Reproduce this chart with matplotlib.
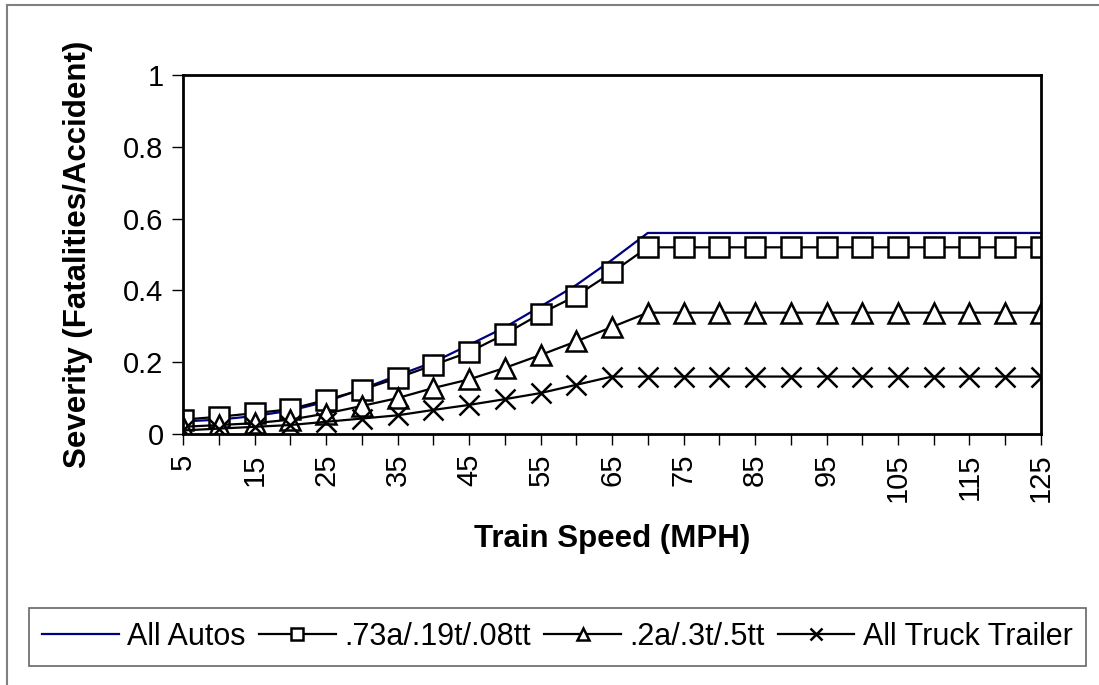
import numpy as np
import matplotlib as mpl
import matplotlib.pyplot as plt
from matplotlib.lines import Line2D

speed = list(range(5, 130, 5))
all_autos = [0.035, 0.04, 0.05, 0.065, 0.09, 0.125, 0.163, 0.2, 0.248, 0.297, 0.355, 0.415, 0.485,
             0.56, 0.56, 0.56, 0.56, 0.56, 0.56, 0.56, 0.56, 0.56, 0.56, 0.56, 0.56]
mix_73 = [0.04, 0.048, 0.058, 0.069, 0.095, 0.123, 0.156, 0.192, 0.228, 0.278, 0.335, 0.385, 0.45,
          0.52, 0.52, 0.52, 0.52, 0.52, 0.52, 0.52, 0.52, 0.52, 0.52, 0.52, 0.52]
mix_2 = [0.02, 0.025, 0.03, 0.04, 0.057, 0.078, 0.1, 0.128, 0.152, 0.184, 0.22, 0.258, 0.298,
         0.338, 0.338, 0.338, 0.338, 0.338, 0.338, 0.338, 0.338, 0.338, 0.338, 0.338, 0.338]
truck = [0.01, 0.015, 0.02, 0.025, 0.034, 0.043, 0.052, 0.067, 0.081, 0.097, 0.114, 0.137, 0.16,
         0.16, 0.16, 0.16, 0.16, 0.16, 0.16, 0.16, 0.16, 0.16, 0.16, 0.16, 0.16]
labels = ["All Autos", ".73a/.19t/.08tt", ".2a/.3t/.5tt", "All Truck Trailer"]

mpl.rcParams['font.family'] = ['Liberation Sans', 'DejaVu Sans']

W, H = 1099, 685
fig = plt.figure(figsize=(W/100, H/100), dpi=100)
# outer border of the chart (only left and top edges show)
fig.lines.append(Line2D([7/W, 7/W], [0, 1 - 5/H], transform=fig.transFigure, color='#808080', lw=1.5))
fig.lines.append(Line2D([7/W, 1], [1 - 5/H, 1 - 5/H], transform=fig.transFigure, color='#808080', lw=1.5))

ax = fig.add_axes([183/W, 1 - 434/H, (1041-183)/W, (434-75)/H])

ax.plot(speed, all_autos, color='#000080', lw=1.6, label=labels[0])
ax.plot(speed, mix_73, color='black', lw=1.6, marker='s', ms=15, mfc='white', mec='black', mew=1.8, label=labels[1])
ax.plot(speed, mix_2, color='black', lw=1.6, marker='^', ms=15, mfc='white', mec='black', mew=1.8, label=labels[2])
ax.plot(speed, truck, color='black', lw=1.6, marker='x', ms=14, mec='black', mew=1.8, label=labels[3])

ax.set_xlim(5, 125)
ax.set_ylim(0, 1)
ax.set_yticks([0, 0.2, 0.4, 0.6, 0.8, 1])
ax.set_yticklabels(['0', '0.2', '0.4', '0.6', '0.8', '1'], fontsize=21)
ax.set_xticks(speed)
ax.set_xticklabels([str(s) if (s - 5) % 10 == 0 else '' for s in speed], rotation=90, fontsize=21)
ax.tick_params(axis='x', direction='out', length=8, width=1, pad=6)
ax.tick_params(axis='y', direction='out', length=8, width=1, pad=6)
for sp in ax.spines.values():
    sp.set_linewidth(2)

ax.set_ylabel('Severity (Fatalities/Accident)', fontsize=22.5, fontweight='bold')
ax.yaxis.set_label_coords(-0.122, 0.5)
ax.yaxis.label.set_va('center')
ax.set_xlabel('Train Speed (MPH)', fontsize=22.5, fontweight='bold')
ax.xaxis.set_label_coords(0.5, -(539 - 434) / 359)
ax.xaxis.label.set_va('center')

leg = fig.legend(loc='center', bbox_to_anchor=((21 + 1094) / 2 / W, 1 - 637/H), ncol=4, fontsize=22,
                 frameon=True, fancybox=False, edgecolor='#404040', handlelength=2.5,
                 handletextpad=0.27, columnspacing=0.45, markerscale=0.6, borderpad=0.45,
                 borderaxespad=0)
leg.get_frame().set_linewidth(1.2)

fig.savefig('out.png', dpi=100)
